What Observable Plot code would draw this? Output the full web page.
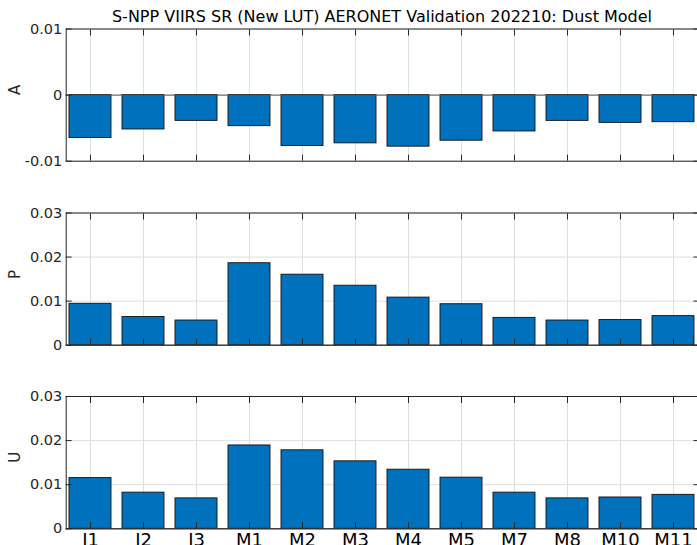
<!DOCTYPE html>
<html>
<head>
<meta charset="utf-8">
<script src="https://cdn.jsdelivr.net/npm/d3@7"></script>
<script src="https://cdn.jsdelivr.net/npm/@observablehq/plot@0.6"></script>
<style>
  html, body { margin: 0; padding: 0; background: #fff; }
  body { position: relative; width: 697px; height: 545px; overflow: hidden; font-family: "DejaVu Sans", sans-serif; }
  #title { position: absolute; left: 0; top: 7px; width: 764px; text-align: center; font-size: 16px; line-height: 19px; color: #000; white-space: nowrap; }
  .panel { position: absolute; left: 0; }
</style>
</head>
<body>
<div id="title">S-NPP VIIRS SR (New LUT) AERONET Validation 202210: Dust Model</div>
<div id="p1" class="panel" style="top:0px"></div>
<div id="p2" class="panel" style="top:180px"></div>
<div id="p3" class="panel" style="top:360px"></div>
<script>
const categories = ["I1","I2","I3","M1","M2","M3","M4","M5","M7","M8","M10","M11"];
const valuesA = [-0.0065,-0.0052,-0.0039,-0.0047,-0.0077,-0.0073,-0.0078,-0.0069,-0.0055,-0.0039,-0.0042,-0.0041];
const valuesP = [0.0094,0.0064,0.0056,0.0186,0.0160,0.0135,0.0108,0.0093,0.0062,0.0056,0.0057,0.0066];
const valuesU = [0.0115,0.0082,0.0069,0.0189,0.0178,0.0153,0.0134,0.0116,0.0082,0.0069,0.0071,0.0077];
const ticksA = [-0.01, 0, 0.01];
const ticksPU = [0, 0.01, 0.02, 0.03];
const labels = ["A", "P", "U"];

const axisColor = "#262626";
const gridColor = "#dfdfdf";

function panel(values, yDomain, yTicks, label, height, mt, mb, showX) {
  const data = categories.map((c, i) => ({c, v: values[i]}));
  const marks = [
    Plot.gridX(categories, {stroke: gridColor, strokeOpacity: 1}),
    Plot.gridY(yTicks, {stroke: gridColor, strokeOpacity: 1}),
    Plot.barY(data, {x: "c", y: "v", fill: "#0072BD", stroke: "#111", strokeWidth: 0.9}),
    Plot.ruleY([0], {stroke: "#555"}),
    Plot.frame({stroke: axisColor}),
    Plot.axisY(yTicks, {anchor: "left", tickSize: -6, tickFormat: () => "", stroke: axisColor, label: null}),
    Plot.axisY(yTicks, {anchor: "left", tickSize: 0, tickPadding: 4, tickFormat: d => String(d), fontSize: 14.5, fill: axisColor, label: null}),
    Plot.axisY(yTicks, {anchor: "right", tickSize: -6, tickFormat: () => "", stroke: axisColor, label: null}),
    Plot.axisX(categories, {anchor: "top", tickSize: -6, tickFormat: () => "", stroke: axisColor, label: null}),
    Plot.axisX(categories, {anchor: "bottom", tickSize: -6, tickFormat: () => "", stroke: axisColor, label: null}),
    Plot.text([label], {text: d => d, frameAnchor: "left", dx: -50.7, rotate: -90, fontSize: 15, fill: axisColor})
  ];
  if (showX) {
    marks.push(Plot.axisX(categories, {anchor: "bottom", tickSize: 0, tickPadding: 4, fontSize: 18, fill: "#000", label: null}));
  }
  return Plot.plot({
    width: 697,
    height,
    marginLeft: 65.7,
    marginRight: -1.5,
    marginTop: mt,
    marginBottom: mb,
    style: {fontFamily: "DejaVu Sans", color: axisColor, background: "transparent", overflow: "visible"},
    x: {type: "band", domain: categories, paddingInner: 0.2, paddingOuter: 0, align: 0.5},
    y: {domain: yDomain},
    marks
  });
}

document.getElementById("p1").append(panel(valuesA, [-0.01, 0.01], ticksA, labels[0], 180, 28.5, 19.3, false));
document.getElementById("p2").append(panel(valuesP, [0, 0.03], ticksPU, labels[1], 180, 32.5, 15.3, false));
document.getElementById("p3").append(panel(valuesU, [0, 0.03], ticksPU, labels[2], 185, 36, 16.7, true));
</script>
</body>
</html>
